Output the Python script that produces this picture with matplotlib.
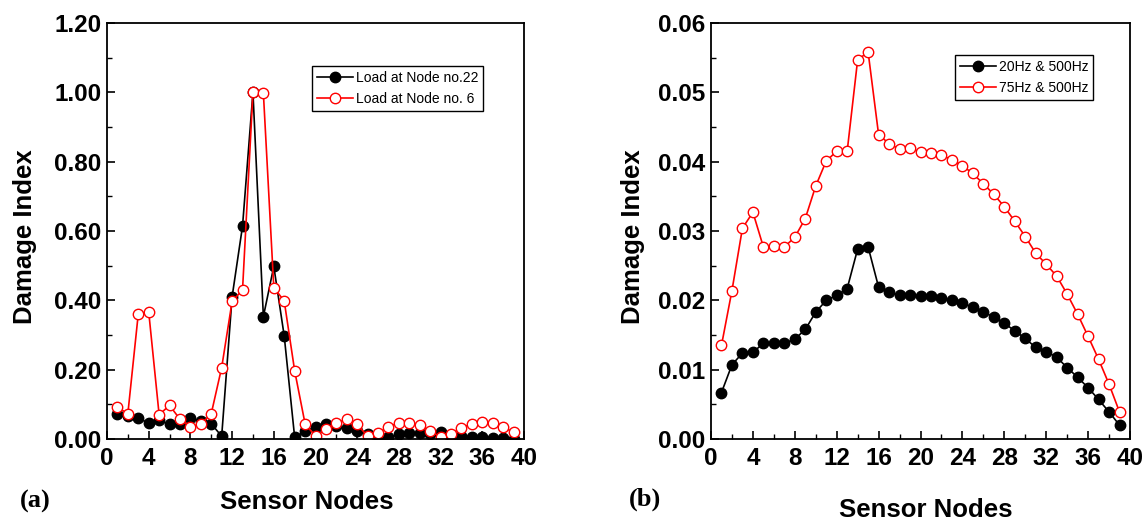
import numpy as np
import matplotlib
matplotlib.use("Agg")
import matplotlib.pyplot as plt
from matplotlib.ticker import MultipleLocator, FormatStrFormatter

# sensor nodes 1..39
nodes = list(range(1, 40))

# (a) damage index for two load positions
load_node22 = [0.071, 0.065, 0.060, 0.046, 0.054, 0.042, 0.044, 0.060, 0.052, 0.044,
               0.008, 0.410, 0.614, 1.000, 0.353, 0.498, 0.297, 0.005, 0.022, 0.034,
               0.042, 0.037, 0.031, 0.022, 0.015, 0.001, 0.005, 0.013, 0.017, 0.017,
               0.015, 0.020, 0.008, 0.008, 0.007, 0.005, 0.004, 0.003, 0.001]
load_node6 = [0.092, 0.073, 0.361, 0.367, 0.070, 0.097, 0.057, 0.036, 0.042, 0.073,
              0.206, 0.397, 0.430, 1.000, 0.998, 0.437, 0.398, 0.197, 0.044, 0.008,
              0.028, 0.046, 0.057, 0.042, 0.008, 0.017, 0.036, 0.046, 0.047, 0.039,
              0.024, 0.005, 0.015, 0.032, 0.044, 0.048, 0.046, 0.035, 0.019]

# (b) damage index for two frequency pairs
freq_20_500 = [0.0067, 0.0107, 0.0124, 0.0125, 0.0138, 0.0138, 0.0138, 0.0144, 0.0158, 0.0183,
               0.0200, 0.0207, 0.0217, 0.0274, 0.0277, 0.0219, 0.0212, 0.0207, 0.0208, 0.0206,
               0.0206, 0.0203, 0.0200, 0.0196, 0.0190, 0.0183, 0.0176, 0.0167, 0.0156, 0.0145,
               0.0132, 0.0126, 0.0118, 0.0103, 0.0089, 0.0074, 0.0057, 0.0039, 0.0020]
freq_75_500 = [0.0135, 0.0214, 0.0304, 0.0327, 0.0277, 0.0278, 0.0277, 0.0291, 0.0318, 0.0365,
               0.0401, 0.0415, 0.0415, 0.0547, 0.0558, 0.0439, 0.0426, 0.0418, 0.0419, 0.0414,
               0.0413, 0.0409, 0.0403, 0.0394, 0.0383, 0.0368, 0.0353, 0.0335, 0.0314, 0.0292,
               0.0268, 0.0252, 0.0235, 0.0209, 0.0180, 0.0148, 0.0115, 0.0079, 0.0039]

sans = ['Liberation Sans', 'DejaVu Sans']

fig = plt.figure(figsize=(11.46, 5.21), dpi=100)
W, H = 1146, 521

def make_ax(x0, x1, y0, y1):
    return fig.add_axes([x0 / W, 1 - y1 / H, (x1 - x0) / W, (y1 - y0) / H])

ax1 = make_ax(107, 524, 23, 439)
ax2 = make_ax(711, 1130, 23, 439)

def style(ax, ymax, ymaj, ymin, fmt):
    ax.set_xlim(0, 40)
    ax.set_ylim(0, ymax)
    ax.xaxis.set_major_locator(MultipleLocator(4))
    ax.xaxis.set_minor_locator(MultipleLocator(2))
    ax.yaxis.set_major_locator(MultipleLocator(ymaj))
    ax.yaxis.set_minor_locator(MultipleLocator(ymin))
    ax.yaxis.set_major_formatter(FormatStrFormatter(fmt))
    ax.tick_params(which='both', direction='in', top=False, right=False)
    ax.tick_params(which='major', length=6, width=1.2)
    ax.tick_params(which='minor', length=3.5, width=1.0)
    ax.tick_params(axis='y', which='major', pad=4)
    ax.tick_params(axis='x', which='major', pad=6)
    for sp in ax.spines.values():
        sp.set_linewidth(1.3)
    for lab in ax.get_xticklabels() + ax.get_yticklabels():
        lab.set_fontfamily(sans)
        lab.set_fontweight('bold')
        lab.set_fontsize(17.5)

mk = dict(marker='o', markersize=7.5, linewidth=1.2)

ax1.plot(nodes, load_node22, color='black', markerfacecolor='black',
         markeredgecolor='black', label='Load at Node no.22', **mk)
ax1.plot(nodes, load_node6, color='red', markerfacecolor='white',
         markeredgecolor='red', label='Load at Node no. 6', **mk)
style(ax1, 1.2, 0.2, 0.1, '%.2f')

ax2.plot(nodes, freq_20_500, color='black', markerfacecolor='black',
         markeredgecolor='black', label='20Hz & 500Hz', **mk)
ax2.plot(nodes, freq_75_500, color='red', markerfacecolor='white',
         markeredgecolor='red', label='75Hz & 500Hz', **mk)
style(ax2, 0.06, 0.01, 0.005, '%.2f')

leg_kw = dict(frameon=True, fancybox=False, framealpha=1, edgecolor='black',
              prop={'family': sans, 'size': 10}, handlelength=2.6,
              handletextpad=0.2, borderpad=0.35, labelspacing=0.5, borderaxespad=0)
l1 = ax1.legend(loc='upper left', bbox_to_anchor=((312 - 107) / 417, 1 - (66 - 23) / 416), **leg_kw)
l2 = ax2.legend(loc='upper left', bbox_to_anchor=((955 - 711) / 419, 1 - (55 - 23) / 416), **leg_kw)
for lg in (l1, l2):
    lg.get_frame().set_linewidth(1.0)

lab_kw = dict(family=sans, fontweight='bold', fontsize=18.5)
fig.text(25 / W, 1 - 237 / H, 'Damage Index', rotation=90, ha='center', va='center', **lab_kw)
fig.text(633 / W, 1 - 237 / H, 'Damage Index', rotation=90, ha='center', va='center', **lab_kw)
fig.text(307 / W, 1 - 502 / H, 'Sensor Nodes', ha='center', va='center', **lab_kw)
fig.text(926 / W, 1 - 510 / H, 'Sensor Nodes', ha='center', va='center', **lab_kw)

sub_kw = dict(family=['Liberation Serif', 'DejaVu Serif'], fontweight='bold', fontsize=19)
fig.text(35 / W, 1 - 501 / H, '(a)', ha='center', va='center', **sub_kw)
fig.text(645 / W, 1 - 499 / H, '(b)', ha='center', va='center', **sub_kw)

fig.savefig('out.png', dpi=100)
